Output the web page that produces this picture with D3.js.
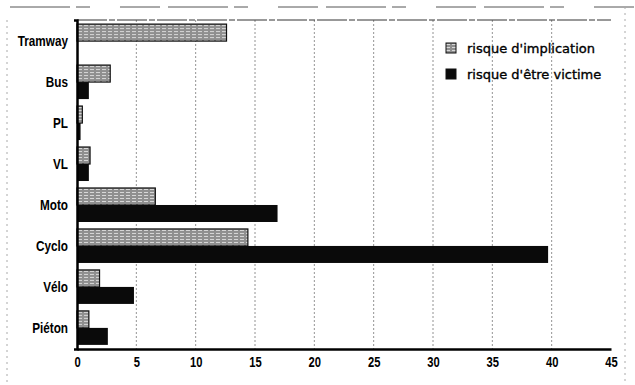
<!DOCTYPE html>
<html>
<head>
<meta charset="utf-8">
<script src="https://cdn.jsdelivr.net/npm/d3@7"></script>
<style>
  body { margin: 0; background: #fff; }
  svg { display: block; }
  .cat { font-family: "Liberation Sans", Arial, sans-serif; font-weight: bold; font-size: 14px; }
  .xlab { font-family: "Liberation Sans", Arial, sans-serif; font-weight: bold; font-size: 14px; }
  .leg { font-family: "DejaVu Sans", sans-serif; font-size: 13px; stroke: #000; stroke-width: 0.35px; }
</style>
</head>
<body>
<div id="chart"></div>
<script>
// data
var categories = ["Tramway", "Bus", "PL", "VL", "Moto", "Cyclo", "Vélo", "Piéton"];
var implication = [12.6, 2.8, 0.45, 1.1, 6.6, 14.4, 1.9, 1.0];
var victime     = [0,    1.0, 0.3,  1.0, 16.9, 39.7, 4.8, 2.6];
var seriesNames = ["risque d'implication", "risque d'être victime"];
var xTicks = [0, 5, 10, 15, 20, 25, 30, 35, 40, 45];

var W = 635, H = 385;
var svg = d3.select("#chart").append("svg").attr("width", W).attr("height", H);
svg.append("rect").attr("width", W).attr("height", H).attr("fill", "#fff");

// hatched grey fill for "implication"
var defs = svg.append("defs");
var pat = defs.append("pattern").attr("id", "hatch")
  .attr("patternUnits", "userSpaceOnUse").attr("width", 6).attr("height", 3);
pat.append("rect").attr("width", 6).attr("height", 3).attr("fill", "#8f8f8f");
pat.append("rect").attr("x", 0).attr("y", 1).attr("width", 4).attr("height", 1).attr("fill", "#d8d8d8");

// scales
var x = d3.scaleLinear().domain([0, 45]).range([77, 611]);
var y = d3.scaleBand().domain(categories).range([20, 349]).paddingInner(0.17).paddingOuter(0.1);
var sub = d3.scaleBand().domain(seriesNames).range([0, y.bandwidth()]);

// outer page border (scan)
svg.append("line").attr("x1", 10).attr("x2", 635).attr("y1", 7).attr("y2", 7)
  .attr("stroke", "#555").attr("stroke-width", 1).attr("stroke-dasharray", "60,6,14,30,40,8");
svg.append("line").attr("x1", 7).attr("x2", 7).attr("y1", 20).attr("y2", H)
  .attr("stroke", "#aaa").attr("stroke-width", 1).attr("stroke-dasharray", "2,4");
svg.append("line").attr("x1", 625).attr("x2", 625).attr("y1", 7).attr("y2", H)
  .attr("stroke", "#aaa").attr("stroke-width", 1).attr("stroke-dasharray", "2,4");

// grid
svg.selectAll(".grid").data(xTicks.filter(function(d){ return d > 0 && d < 45; }))
  .enter().append("line").attr("class", "grid")
  .attr("x1", function(d){ return x(d); }).attr("x2", function(d){ return x(d); })
  .attr("y1", 20).attr("y2", 349)
  .attr("stroke", "#777").attr("stroke-width", 0.8).attr("stroke-dasharray", "2,2");

// top frame line
svg.append("line").attr("x1", x(0)).attr("x2", x(45)).attr("y1", 20).attr("y2", 20)
  .attr("stroke", "#333").attr("stroke-width", 1).attr("stroke-dasharray", "30,2,6,2");

// bars
var rows = categories.map(function(c, i){ return {cat: c, v: [implication[i], victime[i]]}; });
var g = svg.selectAll(".row").data(rows).enter().append("g")
  .attr("transform", function(d){ return "translate(0," + y(d.cat) + ")"; });

g.append("rect")
  .attr("x", x(0)).attr("y", sub(seriesNames[0]))
  .attr("width", function(d){ return x(d.v[0]) - x(0); })
  .attr("height", sub.bandwidth())
  .attr("fill", "url(#hatch)").attr("stroke", "#111").attr("stroke-width", 1.2);

g.append("rect")
  .attr("x", x(0)).attr("y", sub(seriesNames[1]))
  .attr("width", function(d){ return x(d.v[1]) - x(0); })
  .attr("height", sub.bandwidth())
  .attr("fill", "#0a0a0a");

// category labels (bold face, squeezed horizontally to look narrow)
svg.selectAll(".cat").data(categories).enter().append("text")
  .attr("class", "cat")
  .attr("transform", function(d){ return "translate(68," + (y(d) + y.bandwidth() / 2) + ") scale(0.84,1)"; })
  .attr("dy", "0.35em").attr("text-anchor", "end")
  .text(function(d){ return d; });

// axes
var xAxis = svg.append("g").attr("transform", "translate(0,349)")
  .call(d3.axisBottom(x).tickValues(xTicks).tickSize(0).tickPadding(8));
xAxis.select(".domain").attr("stroke", "#000").attr("stroke-width", 2.5);
xAxis.selectAll(".tick text")
  .attr("class", "xlab").attr("fill", "#000")
  .attr("font-size", null).attr("font-family", null)
  .attr("transform", "scale(0.8,1)");
xAxis.attr("font-size", null).attr("font-family", null);

var yAxis = svg.append("g").attr("transform", "translate(" + x(0) + ",0)")
  .call(d3.axisLeft(y).tickValues([]).tickSizeOuter(3));
yAxis.select(".domain").attr("stroke", "#000").attr("stroke-width", 2.5);

// legend
var leg = svg.selectAll(".legrow").data(seriesNames).enter().append("g")
  .attr("transform", function(d, i){ return "translate(446," + (43 + i * 26) + ")"; });
leg.append("rect").attr("width", 10).attr("height", 10)
  .attr("fill", function(d, i){ return i === 0 ? "url(#hatch)" : "#0a0a0a"; })
  .attr("stroke", "#111").attr("stroke-width", 1);
leg.append("text").attr("class", "leg").attr("x", 21).attr("y", 5).attr("dy", "0.35em")
  .text(function(d){ return d; });
</script>
</body>
</html>
